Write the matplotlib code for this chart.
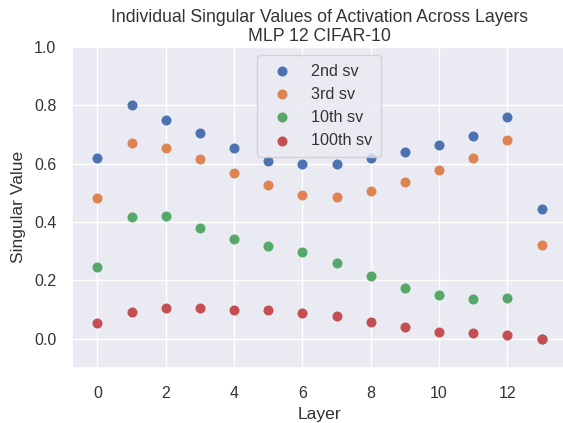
import matplotlib
matplotlib.use("Agg")
import matplotlib.pyplot as plt
import seaborn as sns

layers = list(range(14))
sv2 = [0.619, 0.799, 0.749, 0.703, 0.654, 0.608, 0.597, 0.597, 0.619, 0.638, 0.664, 0.693, 0.759, 0.446]
sv3 = [0.482, 0.669, 0.654, 0.614, 0.568, 0.528, 0.493, 0.487, 0.507, 0.537, 0.578, 0.619, 0.679, 0.321]
sv10 = [0.245, 0.416, 0.422, 0.381, 0.341, 0.316, 0.296, 0.261, 0.215, 0.175, 0.150, 0.135, 0.141, 0.000]
sv100 = [0.053, 0.093, 0.104, 0.104, 0.099, 0.099, 0.088, 0.079, 0.059, 0.039, 0.024, 0.019, 0.014, 0.000]
labels = ["2nd sv", "3rd sv", "10th sv", "100th sv"]
title = "Individual Singular Values of Activation Across Layers\nMLP 12 CIFAR-10"

sns.set_theme(style="darkgrid", palette="deep")
plt.rcParams['font.family'] = ['Liberation Sans', 'DejaVu Sans']

fig = plt.figure(figsize=(5.63, 4.23), dpi=100)
ax = fig.add_axes([71.7/563, 55/423, 495.5/563, (368-46.7)/423])

colors = sns.color_palette("deep")
for vals, lab, c in zip([sv2, sv3, sv10, sv100], labels, colors):
    ax.scatter(layers, vals, s=52, color=c, label=lab, linewidths=0)

ax.set_xlim(-0.75, 13.75)
ax.set_ylim(-0.1, 1.0)
ax.set_xticks([0, 2, 4, 6, 8, 10, 12])
ax.set_yticks([0.0, 0.2, 0.4, 0.6, 0.8, 1.0])
ax.tick_params(labelsize=11.5, colors='#333333')
ax.tick_params(axis='y', pad=5)
ax.tick_params(axis='x', pad=7)
ax.set_xlabel("Layer", fontsize=12.6, color='#333333', labelpad=4)
ax.set_ylabel("Singular Value", fontsize=12.6, color='#333333', labelpad=6)
ax.set_title(title, fontsize=12.7, color='#333333', pad=4)
leg = ax.legend(loc='upper center', fontsize=11.6, borderpad=0.55, frameon=True)
for t in leg.get_texts():
    t.set_color('#333333')

fig.savefig("out.png", dpi=100)
